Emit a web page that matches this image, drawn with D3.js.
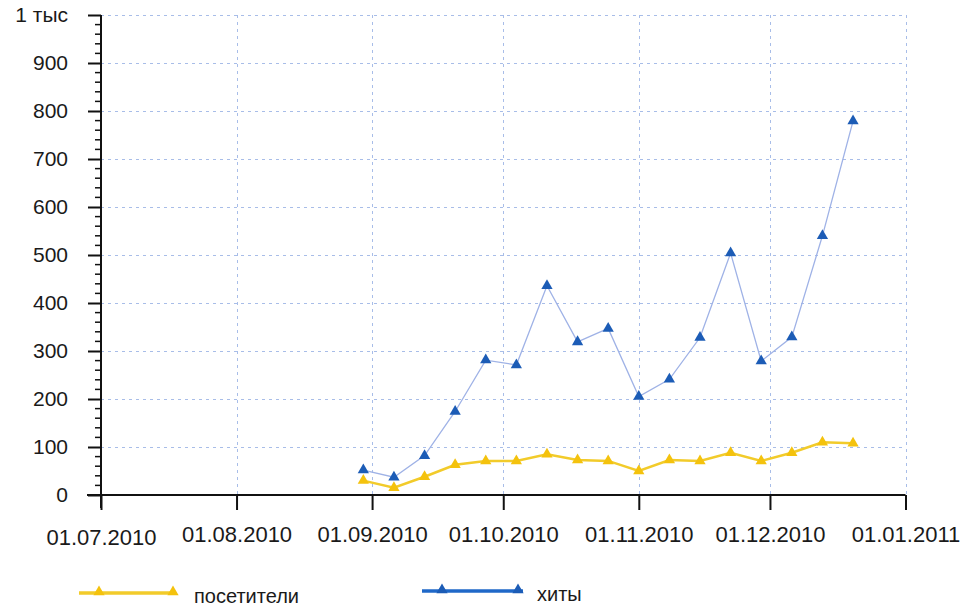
<!DOCTYPE html>
<html>
<head>
<meta charset="utf-8">
<script src="https://cdn.jsdelivr.net/npm/d3@7"></script>
<style>
  html, body { margin: 0; padding: 0; background: #fff; }
  svg { display: block; }
  text { font-family: "Liberation Sans", Arial, sans-serif; fill: #1a1a1a; }
</style>
</head>
<body>
<svg id="chart" width="963" height="608"></svg>
<script>
// ---- data ----
const weekDates = ["2010-08-30","2010-09-06","2010-09-13","2010-09-20","2010-09-27",
  "2010-10-04","2010-10-11","2010-10-18","2010-10-25","2010-11-01","2010-11-08",
  "2010-11-15","2010-11-22","2010-11-29","2010-12-06","2010-12-13","2010-12-20"];
const hits     = [52, 37, 82, 174, 281, 271, 436, 319, 347, 205, 241, 328, 504, 279, 329, 540, 779];
const visitors = [30, 15, 38, 63, 71, 71, 85, 73, 71, 50, 73, 71, 88, 71, 88, 110, 108];
const xTickDates = ["2010-07-01","2010-08-01","2010-09-01","2010-10-01","2010-11-01","2010-12-01","2011-01-01"];
const yTicks = [0, 100, 200, 300, 400, 500, 600, 700, 800, 900, 1000];
const yTickLabels = ["0","100","200","300","400","500","600","700","800","900","1 тыс"];
const seriesNames = ["посетители", "хиты"];

const parse = d3.timeParse("%Y-%m-%d");
const fmt = d3.timeFormat("%d.%m.%Y");
const dates = weekDates.map(parse);
const xTicks = xTickDates.map(parse);

const svg = d3.select("#chart");
const x = d3.scaleTime().domain([xTicks[0], xTicks[xTicks.length - 1]]).range([101, 905.5]);
const y = d3.scaleLinear().domain([0, 1000]).range([495, 15]);

const gridColor = "#a8bde8";
// grid
const grid = svg.append("g");
grid.selectAll("line.h").data(yTicks.slice(1)).join("line")
  .attr("x1", x.range()[0]).attr("x2", x.range()[1])
  .attr("y1", d => Math.round(y(d)) + 0.5).attr("y2", d => Math.round(y(d)) + 0.5)
  .attr("stroke", gridColor).attr("stroke-dasharray", "3,4").attr("stroke-width", 1);
grid.selectAll("line.v").data(xTicks.slice(1)).join("line")
  .attr("x1", d => Math.round(x(d)) + 0.5).attr("x2", d => Math.round(x(d)) + 0.5)
  .attr("y1", y(1000)).attr("y2", y(0))
  .attr("stroke", gridColor).attr("stroke-dasharray", "3,4").attr("stroke-width", 1);

// y axis
const yAxis = d3.axisLeft(y).tickValues(yTicks)
  .tickFormat((d, i) => yTickLabels[i]).tickSize(13).tickPadding(20);
const gy = svg.append("g").attr("transform", "translate(101,0)").call(yAxis);
gy.select(".domain").remove();
gy.selectAll(".tick line").attr("stroke", "#111").attr("stroke-width", 2);
gy.selectAll(".tick text").attr("font-size", 21).attr("fill", "#1a1a1a")
  .style("font-family", "'Liberation Sans', Arial, sans-serif");
// minor ticks
const minor = d3.range(0, 1001, 20).filter(v => v % 100 !== 0);
svg.append("g").selectAll("line").data(minor).join("line")
  .attr("x1", 95).attr("x2", 101)
  .attr("y1", d => y(d)).attr("y2", d => y(d))
  .attr("stroke", "#111").attr("stroke-width", 1.5);
svg.append("line").attr("x1", 101).attr("x2", 101).attr("y1", y(1000)).attr("y2", 508)
  .attr("stroke", "#111").attr("stroke-width", 2);

// x axis
const xAxis = d3.axisBottom(x).tickValues(xTicks).tickFormat(fmt).tickSize(15).tickPadding(16);
const gx = svg.append("g").attr("transform", "translate(0,495)").call(xAxis);
gx.select(".domain").remove();
gx.selectAll(".tick line").attr("stroke", "#111").attr("stroke-width", 2);
gx.selectAll(".tick text").attr("font-size", 22).attr("fill", "#1a1a1a")
  .style("font-family", "'Liberation Sans', Arial, sans-serif");
gx.select(".tick text").attr("transform", "translate(0,3)");
svg.append("line").attr("x1", 87).attr("x2", x.range()[1]).attr("y1", 495).attr("y2", 495)
  .attr("stroke", "#111").attr("stroke-width", 2);

// series
const blueLine = "#9fb2e6", blueMark = "#1c5cb6";
const yellowLine = "#f2cb2a", yellowMark = "#f4c20d";
const line = d3.line().x((d, i) => x(dates[i])).y(d => y(d));
svg.append("path").datum(hits).attr("d", line).attr("fill", "none")
  .attr("stroke", blueLine).attr("stroke-width", 1.3);
svg.append("path").datum(visitors).attr("d", line).attr("fill", "none")
  .attr("stroke", yellowLine).attr("stroke-width", 2.5);
const tri = d3.symbol().type(d3.symbolTriangle).size(55);
svg.append("g").selectAll("path").data(visitors).join("path")
  .attr("d", tri).attr("fill", yellowMark)
  .attr("transform", (d, i) => `translate(${x(dates[i])},${y(d)})`);
svg.append("g").selectAll("path").data(hits).join("path")
  .attr("d", tri).attr("fill", blueMark)
  .attr("transform", (d, i) => `translate(${x(dates[i])},${y(d)})`);

// legend
const legend = [
  { name: seriesNames[0], color: yellowLine, mark: yellowMark, x1: 79, x2: 175, m: [99, 173], y: 593, tx: 194 },
  { name: seriesNames[1], color: "#1f68c8", mark: blueMark, x1: 422, x2: 523, m: [442, 518], y: 591, tx: 537 }
];
const lg = svg.append("g");
legend.forEach(l => {
  lg.append("line").attr("x1", l.x1).attr("x2", l.x2).attr("y1", l.y).attr("y2", l.y)
    .attr("stroke", l.color).attr("stroke-width", 3.5);
  l.m.forEach(mx => lg.append("path").attr("d", tri).attr("fill", l.mark)
    .attr("transform", `translate(${mx},${l.y - 1})`));
  lg.append("text").attr("x", l.tx).attr("y", l.y + 3).attr("dy", "0.35em")
    .attr("font-size", 20).text(l.name);
});
</script>
</body>
</html>
